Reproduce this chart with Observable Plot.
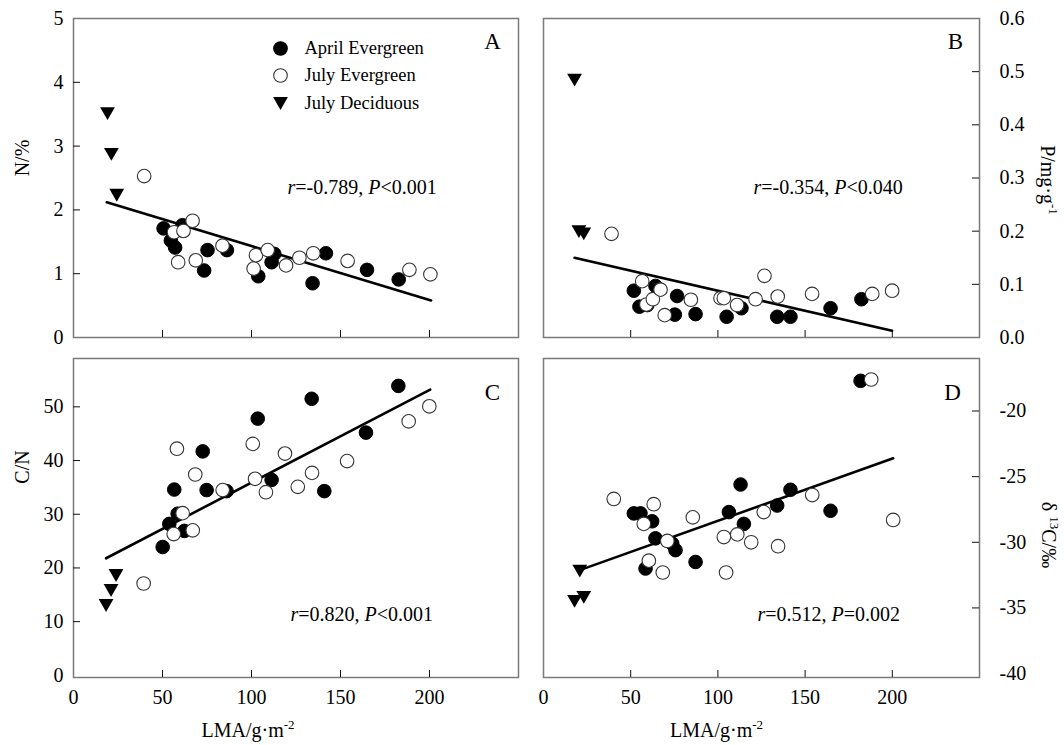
<!DOCTYPE html>
<html><head><meta charset="utf-8">
<script src="https://cdn.jsdelivr.net/npm/d3@7"></script>
<script src="https://cdn.jsdelivr.net/npm/@observablehq/plot@0.6"></script>
<style>
body{margin:0;background:#fff;}
#chart{position:relative;width:1064px;height:745px;background:#fff;font-family:"Liberation Serif","Times New Roman",serif;}
#chart svg{position:absolute;}
</style></head><body><div id="chart"></div>
<script>
// ---------- data ----------
const seriesNames = ["April Evergreen", "July Evergreen", "July Deciduous"];
const lmaTickLabels = [0, 50, 100, 150, 200];
const lmaTickMarks = [50, 100, 150, 200];

// Panel A: N (%)
const aprilA_lma = [50.6, 54.7, 57.1, 61.2, 75.3, 73.4, 86.2, 103.8, 111.3, 112.8, 134.3, 141.8, 164.9, 182.7];
const aprilA_n   = [1.71, 1.52, 1.41, 1.76, 1.37, 1.05, 1.37, 0.96, 1.18, 1.31, 0.85, 1.32, 1.06, 0.91];
const julyA_lma  = [39.7, 56.5, 61.8, 66.9, 58.8, 68.7, 83.7, 101.2, 102.5, 109.1, 119.4, 126.9, 134.7, 154.0, 188.7, 200.5];
const julyA_n    = [2.53, 1.65, 1.67, 1.83, 1.18, 1.21, 1.44, 1.08, 1.29, 1.37, 1.13, 1.25, 1.32, 1.20, 1.06, 0.99];
const decidA_lma = [19.1, 21.3, 24.3];
const decidA_n   = [3.51, 2.87, 2.23];
const fitA_lma = [18.7, 200.9];
const fitA_n   = [2.12, 0.58];

// Panel B: P (mg/g)
const aprilB_lma = [51.8, 55.0, 59.5, 64.2, 76.6, 75.3, 87.2, 105.0, 113.5, 134.0, 141.6, 164.6, 182.3];
const aprilB_p   = [0.088, 0.058, 0.061, 0.097, 0.078, 0.043, 0.044, 0.039, 0.055, 0.039, 0.039, 0.055, 0.072];
const julyB_lma  = [39.0, 56.6, 59.0, 62.7, 67.1, 69.5, 84.5, 101.5, 103.4, 111.0, 121.6, 126.7, 134.3, 154.0, 188.5, 199.9];
const julyB_p    = [0.195, 0.106, 0.062, 0.072, 0.090, 0.042, 0.071, 0.074, 0.074, 0.061, 0.072, 0.116, 0.077, 0.082, 0.082, 0.088];
const decidB_lma = [17.8, 20.3, 23.1];
const decidB_p   = [0.484, 0.199, 0.195];
const fitB_lma = [17.8, 199.9];
const fitB_p   = [0.150, 0.0126];

// Panel C: C/N
const aprilC_lma = [50.1, 53.8, 56.6, 58.5, 62.3, 72.6, 74.8, 86.0, 103.5, 111.3, 133.8, 140.9, 164.3, 182.5];
const aprilC_cn  = [23.9, 28.2, 34.6, 30.1, 26.9, 41.7, 34.5, 34.3, 47.8, 36.4, 51.5, 34.3, 45.2, 53.9];
const julyC_lma  = [39.4, 56.3, 58.1, 61.3, 67.0, 68.4, 83.8, 100.7, 102.0, 108.1, 118.8, 126.0, 134.0, 153.7, 188.3, 199.9];
const julyC_cn   = [17.1, 26.3, 42.2, 30.2, 27.0, 37.4, 34.5, 43.1, 36.6, 34.1, 41.3, 35.1, 37.7, 39.9, 47.3, 50.1];
const decidC_lma = [18.3, 21.1, 23.9];
const decidC_cn  = [13.0, 15.8, 18.6];
const fitC_lma = [18.3, 200.4];
const fitC_cn  = [21.8, 53.2];

// Panel D: delta 13C (per mil)
const aprilD_lma = [51.8, 55.6, 58.5, 62.3, 64.2, 73.8, 75.7, 87.2, 106.3, 113.0, 114.9, 134.0, 141.6, 164.6, 181.8];
const aprilD_c   = [-27.8, -27.8, -32.0, -28.4, -29.7, -30.1, -30.6, -31.5, -27.7, -25.6, -28.6, -27.2, -26.0, -27.6, -17.7];
const julyD_lma  = [40.3, 57.5, 60.4, 63.2, 68.4, 71.0, 85.6, 103.4, 104.7, 111.1, 119.1, 126.3, 134.5, 154.1, 187.9, 200.5];
const julyD_c    = [-26.7, -28.6, -31.4, -27.1, -32.3, -29.9, -28.1, -29.6, -32.3, -29.4, -30.0, -27.7, -30.3, -26.4, -17.6, -28.3];
const decidD_lma = [17.8, 20.8, 23.1];
const decidD_c   = [-34.5, -32.2, -34.2];
const fitD_lma = [21.2, 200.5];
const fitD_c   = [-32.1, -23.6];

const statTexts = ["r=-0.789, P<0.001", "r=-0.354, P<0.040", "r=0.820, P<0.001", "r=0.512, P=0.002"];
const panelLetters = ["A", "B", "C", "D"];
const yLabels = ["N/%", "P/mg·g-1", "C/N", "δ13C/‰"];

const yTickLabelsA = [0, 1, 2, 3, 4, 5];
const yTickLabelsB = [0, 0.1, 0.2, 0.3, 0.4, 0.5, 0.6];
const yTickLabelsC = [0, 10, 20, 30, 40, 50];
const yTickLabelsD = [-40, -35, -30, -25, -20];

// ---------- helpers ----------
const rows = (xs, ys) => xs.map((x, i) => ({x, y: ys[i]}));
const triangleDown = {
  draw(context, size) {
    const s = Math.sqrt(size / (Math.sqrt(3) / 4));
    const h = s * Math.sqrt(3) / 2;
    context.moveTo(-s / 2, -h / 2);
    context.lineTo(s / 2, -h / 2);
    context.lineTo(0, h / 2);
    context.closePath();
  }
};
const FONT = "Liberation Serif, Times New Roman, serif";

function panel(cfg) {
  const fw = cfg.width - cfg.ml - cfg.mr;
  const fh = cfg.height - cfg.mt - cfg.mb;
  const marks = [];
  marks.push(Plot.frame({stroke: "#7a7a7a", strokeWidth: 1.5}));
  marks.push(Plot.tickX(lmaTickMarks, {x: d => d, insetTop: fh - 7, stroke: "#111", strokeWidth: 1}));
  if (cfg.yAnchor === "left") {
    marks.push(Plot.tickY(cfg.yTickMarks, {y: d => d, insetRight: fw - 7, stroke: "#111", strokeWidth: 1}));
  } else {
    marks.push(Plot.tickY(cfg.yTickMarks, {y: d => d, insetLeft: fw - 7, stroke: "#111", strokeWidth: 1}));
  }
  marks.push(Plot.axisY(cfg.yTicks, {anchor: cfg.yAnchor, tickSize: 0, tickPadding: cfg.yAnchor === "left" ? 10 : 20,
    tickFormat: cfg.yFormat, fontSize: 20, label: null, fill: "#000"}));
  if (cfg.showX) {
    marks.push(Plot.axisX(lmaTickLabels, {anchor: "bottom", tickSize: 0, tickPadding: 12, tickFormat: d => String(d), fontSize: 20, label: null, fill: "#000"}));
    marks.push(Plot.text(["LMA/g·m-2"], {text: d => d, frameAnchor: "bottom", dx: cfg.xLabelDx, dy: 53, fontSize: 20, lineAnchor: "middle", textAnchor: "middle", fill: "#000"}));
  }
  marks.push(Plot.line(cfg.fit, {x: "x", y: "y", stroke: "#000", strokeWidth: 2.6}));
  marks.push(Plot.dot(cfg.april, {x: "x", y: "y", r: 6.8, fill: "#000", stroke: "#000", strokeWidth: 1}));
  marks.push(Plot.dot(cfg.july, {x: "x", y: "y", r: 6.8, fill: "#fff", stroke: "#333", strokeWidth: 1.1}));
  marks.push(Plot.dot(cfg.decid, {x: "x", y: "y", r: 5.5, symbol: triangleDown, fill: "#000", stroke: "none"}));
  marks.push(Plot.text([cfg.letter], {text: d => d, frameAnchor: "top-left", dx: cfg.letterDx, dy: cfg.letterDy, fontSize: 23, textAnchor: "middle", lineAnchor: "middle", fill: "#000"}));
  marks.push(Plot.text([cfg.stat], {text: d => d, frameAnchor: "top-left", dx: cfg.statDx, dy: cfg.statDy, fontSize: 20, textAnchor: "start", lineAnchor: "middle", fill: "#000"}));
  marks.push(Plot.text([cfg.yLabel], {text: d => d, frameAnchor: cfg.yAnchor, dx: cfg.yLabelDx, dy: cfg.yLabelDy,
    rotate: cfg.yAnchor === "left" ? -90 : 90, fontSize: 20, textAnchor: "middle", lineAnchor: "middle", fill: "#000"}));
  if (cfg.legend) {
    const legendSymbols = [
      {r: 6.8, fill: "#000", stroke: "#000", symbol: "circle"},
      {r: 6.8, fill: "#fff", stroke: "#333", symbol: "circle"},
      {r: 5.5, fill: "#000", stroke: "none", symbol: triangleDown}
    ];
    const legendDy = [30, 57, 85];
    seriesNames.forEach((name, i) => {
      const s = legendSymbols[i];
      marks.push(Plot.dot([name], {frameAnchor: "top-left", dx: 207, dy: legendDy[i], r: s.r, fill: s.fill, stroke: s.stroke, symbol: s.symbol, strokeWidth: 1.1}));
      marks.push(Plot.text([name], {text: d => d, frameAnchor: "top-left", dx: 231, dy: legendDy[i], fontSize: 18.5, textAnchor: "start", lineAnchor: "middle", fill: "#000"}));
    });
  }
  const svg = Plot.plot({
    width: cfg.width, height: cfg.height,
    marginLeft: cfg.ml, marginRight: cfg.mr, marginTop: cfg.mt, marginBottom: cfg.mb,
    style: {fontFamily: FONT, fontSize: "20px", background: "transparent", overflow: "visible"},
    x: {domain: [0, 250], axis: cfg.showX ? undefined : null},
    y: {domain: cfg.yDomain},
    marks
  });
  svg.style.left = cfg.left + "px";
  svg.style.top = cfg.top + "px";
  document.getElementById("chart").appendChild(svg);
  return svg;
}

function rich(svg, plain, html) {
  d3.select(svg).selectAll("text").filter(function() { return this.textContent === plain; }).html(html);
}
function italicStat(svg, s) {
  const m = s.match(/^r(.*), P(.*)$/);
  const esc = t => t.replace(/</g, "&lt;");
  rich(svg, s, `<tspan font-style="italic">r</tspan>${esc(m[1])}, <tspan font-style="italic">P</tspan>${esc(m[2])}`);
}

const svgA = panel({left: 0, top: 0, width: 532, height: 350, ml: 73, mr: 14, mt: 18, mb: 13,
  yDomain: [0, 5], yTicks: yTickLabelsA, yTickMarks: [1, 2, 3, 4], yFormat: d => String(d), yAnchor: "left",
  showX: false, april: rows(aprilA_lma, aprilA_n), july: rows(julyA_lma, julyA_n), decid: rows(decidA_lma, decidA_n),
  fit: rows(fitA_lma, fitA_n), letter: panelLetters[0], letterDx: 419, letterDy: 23, stat: statTexts[0], statDx: 214, statDy: 169,
  yLabel: yLabels[0], yLabelDx: -51, yLabelDy: -20, legend: true});

const svgB = panel({left: 532, top: 0, width: 532, height: 350, ml: 11, mr: 85, mt: 18, mb: 13,
  yDomain: [0, 0.6], yTicks: yTickLabelsB, yTickMarks: [0.1, 0.2, 0.3, 0.4, 0.5], yFormat: d => d.toFixed(1), yAnchor: "right",
  showX: false, april: rows(aprilB_lma, aprilB_p), july: rows(julyB_lma, julyB_p), decid: rows(decidB_lma, decidB_p),
  fit: rows(fitB_lma, fitB_p), letter: panelLetters[1], letterDx: 412, letterDy: 23, stat: statTexts[1], statDx: 210, statDy: 169,
  yLabel: yLabels[1], yLabelDx: 68, yLabelDy: 2, legend: false});

const svgC = panel({left: 0, top: 350, width: 532, height: 395, ml: 73, mr: 14, mt: 8, mb: 68,
  yDomain: [-0.4, 59], yTicks: yTickLabelsC, yTickMarks: [10, 20, 30, 40, 50], yFormat: d => String(d), yAnchor: "left",
  showX: true, xLabelDx: -48, april: rows(aprilC_lma, aprilC_cn), july: rows(julyC_lma, julyC_cn), decid: rows(decidC_lma, decidC_cn),
  fit: rows(fitC_lma, fitC_cn), letter: panelLetters[2], letterDx: 419, letterDy: 34, stat: statTexts[2], statDx: 217, statDy: 256,
  yLabel: yLabels[2], yLabelDx: -51, yLabelDy: -51, legend: false});

const svgD = panel({left: 532, top: 350, width: 532, height: 395, ml: 11, mr: 85, mt: 8, mb: 68,
  yDomain: [-40.3, -16], yTicks: yTickLabelsD, yTickMarks: [-35, -30, -25, -20], yFormat: d => String(d), yAnchor: "right",
  showX: true, xLabelDx: -45, april: rows(aprilD_lma, aprilD_c), july: rows(julyD_lma, julyD_c), decid: rows(decidD_lma, decidD_c),
  fit: rows(fitD_lma, fitD_c), letter: panelLetters[3], letterDx: 409, letterDy: 34, stat: statTexts[3], statDx: 214, statDy: 256,
  yLabel: yLabels[3], yLabelDx: 69, yLabelDy: 17, legend: false});

[svgA, svgB, svgC, svgD].forEach((svg, i) => italicStat(svg, statTexts[i]));
const sup = t => `<tspan dy="-8" font-size="13">${t}</tspan>`;
rich(svgC, "LMA/g·m-2", `LMA/g·m${sup("-2")}`);
rich(svgD, "LMA/g·m-2", `LMA/g·m${sup("-2")}`);
rich(svgB, "P/mg·g-1", `P/mg·g${sup("-1")}`);
rich(svgD, "δ13C/‰", `δ ${sup("13")}<tspan dy="8">C/‰</tspan>`);
</script></body></html>
